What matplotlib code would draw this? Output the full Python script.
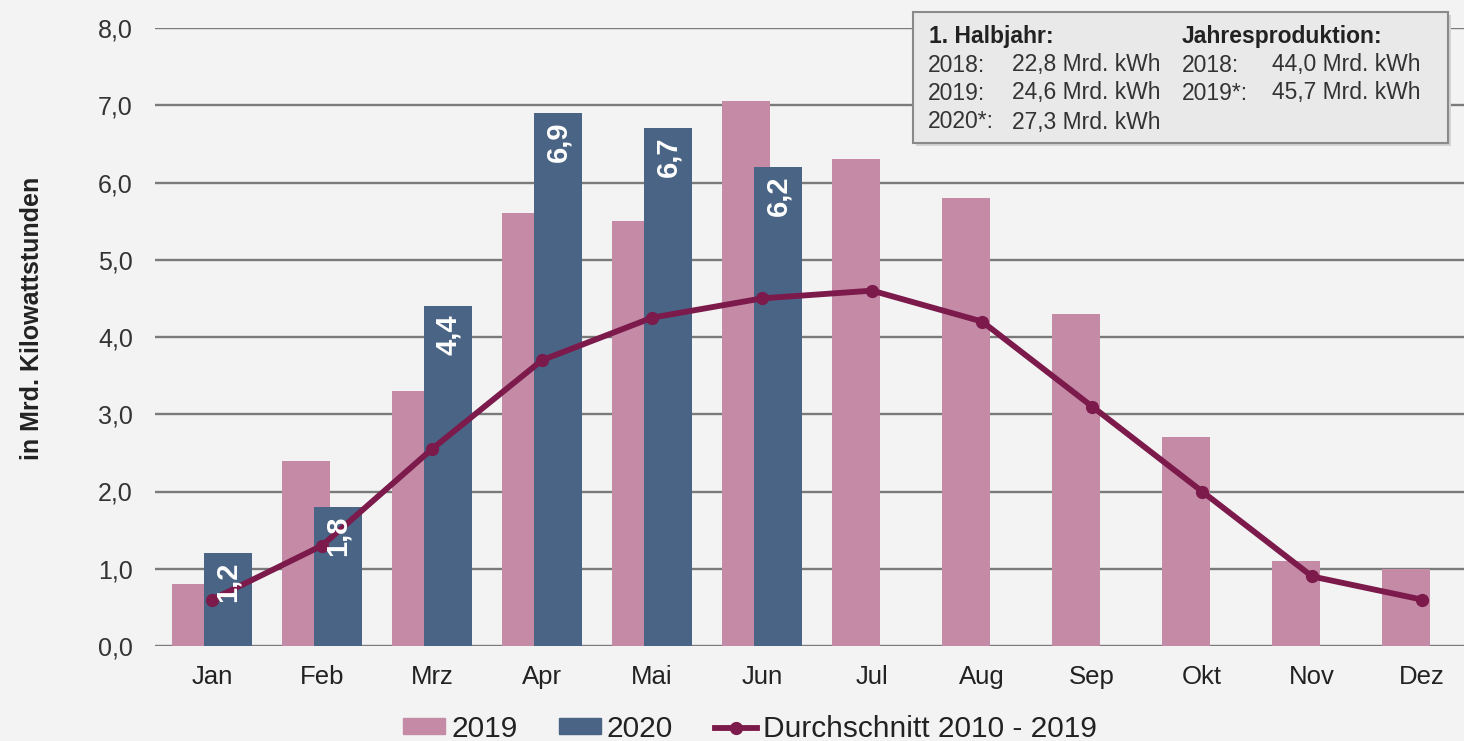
import numpy as np
import matplotlib.pyplot as plt
from matplotlib.patches import FancyBboxPatch, Patch
from matplotlib.lines import Line2D

plt.rcParams['font.family'] = ['Liberation Sans', 'DejaVu Sans']

# Daten
monate = ["Jan", "Feb", "Mrz", "Apr", "Mai", "Jun", "Jul", "Aug", "Sep", "Okt", "Nov", "Dez"]
werte_2019 = [0.8, 2.4, 3.3, 5.6, 5.5, 7.05, 6.3, 5.8, 4.3, 2.7, 1.1, 1.0]
werte_2020 = [1.2, 1.8, 4.4, 6.9, 6.7, 6.2]
durchschnitt = [0.6, 1.3, 2.55, 3.7, 4.25, 4.5, 4.6, 4.2, 3.1, 2.0, 0.9, 0.6]

halbjahr_titel = "1. Halbjahr:"
halbjahr_jahre = ["2018:", "2019:", "2020*:"]
halbjahr_werte = ["22,8 Mrd. kWh", "24,6 Mrd. kWh", "27,3 Mrd. kWh"]
jahr_titel = "Jahresproduktion:"
jahr_jahre = ["2018:", "2019*:"]
jahr_werte = ["44,0 Mrd. kWh", "45,7 Mrd. kWh"]

# Farben
FARBE_2019 = "#c48aa6"
FARBE_2020 = "#4a6485"
FARBE_LINIE = "#7b1a4b"
HINTERGRUND = "#f3f3f3"
TEXT = "#222222"

W, H = 1464, 741

fig = plt.figure(figsize=(W / 100, H / 100), dpi=100, facecolor=HINTERGRUND)
ax = fig.add_axes([155 / W, 95 / H, (W - 155) / W, 618 / H])
ax.set_facecolor(HINTERGRUND)

x = np.arange(len(monate))
breite = 0.436
versatz = 0.145

ax.bar(x - versatz, werte_2019, width=breite, color=FARBE_2019, zorder=2)
x20 = x[:len(werte_2020)]
ax.bar(x20 + versatz, werte_2020, width=breite, color=FARBE_2020, zorder=3)

# Werte in die 2020-Balken schreiben
for xi, wert in zip(x20, werte_2020):
    ax.annotate(f"{wert:.1f}".replace(".", ","), (xi + versatz, wert),
                xytext=(0, -6), textcoords="offset points",
                rotation=90, ha="center", va="top", color="white",
                fontsize=21, fontweight="bold", zorder=5)

ax.plot(x, durchschnitt, color=FARBE_LINIE, linewidth=4.2, marker="o", markersize=8.5, zorder=4)

ax.set_xlim(-0.518, 11.38)
ax.set_ylim(0, 8)
ax.set_yticks(np.arange(0, 9, 1))
ax.set_yticklabels([f"{v:.1f}".replace(".", ",") for v in range(0, 9)], fontsize=18, color="#333333")
ax.set_xticks(x)
ax.set_xticklabels(monate, fontsize=18.5, color=TEXT)
ax.tick_params(axis="both", length=0)
ax.tick_params(axis="y", pad=16)
ax.tick_params(axis="x", pad=14)
ax.grid(True, axis="y", color="#7a7a7a", linewidth=1.7, zorder=0)
ax.set_axisbelow(True)
for s in ax.spines.values():
    s.set_visible(False)

fig.text(32 / W, 1 - 318 / H, "in Mrd. Kilowattstunden", rotation=90, ha="center", va="center",
         fontsize=18, fontweight="bold", color=TEXT)

# Legende
handles = [
    Patch(color=FARBE_2019, label="2019"),
    Patch(color=FARBE_2020, label="2020"),
    Line2D([], [], color=FARBE_LINIE, linewidth=4.2, marker="o", markersize=8.5, label="Durchschnitt 2010 - 2019"),
]
fig.legend(handles=handles, loc="center", bbox_to_anchor=(750 / W, 1 - 729 / H), ncol=3,
           frameon=False, fontsize=21.5, handlelength=1.4, handleheight=0.45, handletextpad=0.2,
           columnspacing=1.4, labelcolor=TEXT, borderpad=0)

# Infobox
schatten = FancyBboxPatch((916 / W, 1 - 146 / H), 535 / W, 131 / H,
                          boxstyle="square,pad=0", transform=fig.transFigure,
                          facecolor="#d3d3d3", edgecolor="none", zorder=9)
box = FancyBboxPatch((913 / W, 1 - 143 / H), 535 / W, 131 / H,
                     boxstyle="square,pad=0", transform=fig.transFigure,
                     facecolor="#e9e9e9", edgecolor="#8a8a8a", linewidth=1.5, zorder=10)
fig.patches.extend([schatten, box])

zeilen_y = [36, 65, 93, 122]
fs_box = 16.5
fig.text(929 / W, 1 - zeilen_y[0] / H, halbjahr_titel, fontsize=fs_box, fontweight="bold",
         va="center", color=TEXT, zorder=11)
for i, (j, w) in enumerate(zip(halbjahr_jahre, halbjahr_werte)):
    fig.text(928 / W, 1 - zeilen_y[i + 1] / H, j, fontsize=fs_box, va="center", color="#333333", zorder=11)
    fig.text(1160 / W, 1 - zeilen_y[i + 1] / H, w, fontsize=fs_box, va="center", ha="right",
             color="#333333", zorder=11)
fig.text(1182 / W, 1 - zeilen_y[0] / H, jahr_titel, fontsize=fs_box, fontweight="bold",
         va="center", color=TEXT, zorder=11)
for i, (j, w) in enumerate(zip(jahr_jahre, jahr_werte)):
    fig.text(1182 / W, 1 - zeilen_y[i + 1] / H, j, fontsize=fs_box, va="center", color="#333333", zorder=11)
    fig.text(1421 / W, 1 - zeilen_y[i + 1] / H, w, fontsize=fs_box, va="center", ha="right",
             color="#333333", zorder=11)

fig.savefig("out.png", dpi=100, facecolor=HINTERGRUND)
